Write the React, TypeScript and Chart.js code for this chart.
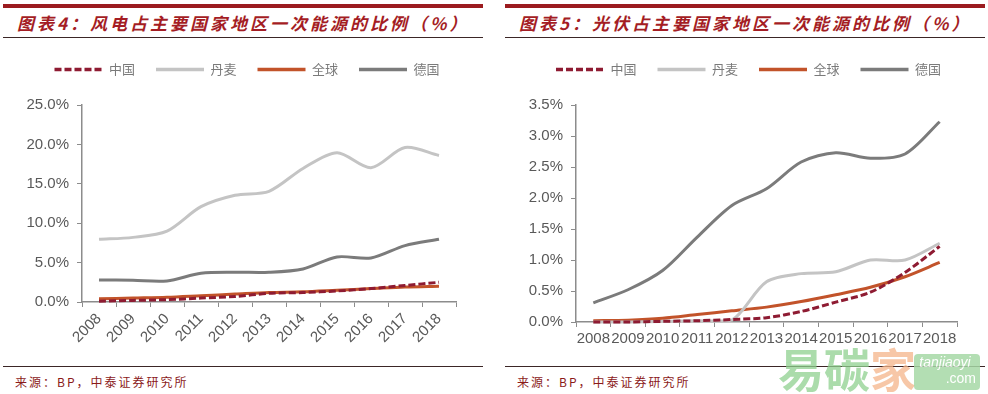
import React, { useEffect, useRef } from 'react';
import { Chart, registerables } from 'chart.js';
Chart.register(...registerables);

const years = ['2008', '2009', '2010', '2011', '2012', '2013', '2014', '2015', '2016', '2017', '2018'];
const seriesNames = ['中国', '丹麦', '全球', '德国'];

const windChina = [0.1, 0.2, 0.3, 0.5, 0.7, 1.1, 1.2, 1.4, 1.7, 2.1, 2.5];
const windDenmark = [7.95, 8.2, 9.0, 12.1, 13.55, 14.05, 16.95, 18.95, 17.05, 19.6, 18.6];
const windGlobal = [0.4, 0.5, 0.6, 0.8, 1.0, 1.2, 1.3, 1.5, 1.7, 1.9, 2.0];
const windGermany = [2.8, 2.75, 2.67, 3.64, 3.77, 3.77, 4.19, 5.72, 5.59, 7.16, 7.97];
const windTicks = [0, 5, 10, 15, 20, 25];

const solarChina = [0, 0, 0.01, 0.02, 0.04, 0.07, 0.17, 0.32, 0.48, 0.8, 1.22];
const solarDenmark = [0, 0, 0.01, 0.02, 0.03, 0.65, 0.78, 0.81, 1.0, 1.0, 1.27];
const solarGlobal = [0.02, 0.03, 0.06, 0.12, 0.18, 0.24, 0.33, 0.44, 0.56, 0.73, 0.96];
const solarGermany = [0.31, 0.52, 0.83, 1.37, 1.88, 2.15, 2.58, 2.73, 2.64, 2.71, 3.23];
const solarTicks = [0, 0.5, 1, 1.5, 2, 2.5, 3, 3.5];

const seriesColors = ['#8e1b32', '#c4c4c4', '#c2532a', '#7b7b7b'];
const seriesDash = [[7, 3], [], [], []];
const axisColor = '#8c8c8c';
const tickColor = '#595959';

type PanelProps = {
  left: number;
  data: number[][];
  ticks: number[];
  rotate: boolean;
  pad: { left: number; right: number };
  yWidth: number;
  xHeight: number;
  legendShift: number;
};

function legendTweak(extra: number, dx: number) {
  return {
    id: 'legendTweak',
    beforeLayout(chart: any) {
      const lg = chart.legend;
      if (lg && !lg.__tweak) {
        const origFit = lg.fit.bind(lg);
        lg.fit = function () {
          origFit();
          this.height += extra;
        };
        const origDraw = lg.draw.bind(lg);
        lg.draw = function () {
          const ctx = this.ctx;
          ctx.save();
          ctx.translate(dx, 0);
          origDraw();
          ctx.restore();
        };
        lg.__tweak = true;
      }
    },
  };
}

function LineChart(props: PanelProps) {
  const ref = useRef<HTMLCanvasElement | null>(null);
  useEffect(() => {
    if (!ref.current) return;
    const maxV = props.ticks[props.ticks.length - 1];
    const step = props.ticks[1] - props.ticks[0];
    const chart = new Chart(ref.current, {
      type: 'line',
      data: {
        labels: years,
        datasets: seriesNames.map((name, i) => ({
          label: name,
          data: props.data[i],
          borderColor: seriesColors[i],
          backgroundColor: seriesColors[i],
          borderWidth: 3,
          borderDash: seriesDash[i],
          pointRadius: 0,
          pointHoverRadius: 0,
          tension: 0.3,
          fill: false,
          clip: false as any,
        })),
      },
      options: {
        animation: false,
        responsive: false,
        devicePixelRatio: 1,
        layout: { padding: { left: props.pad.left, right: props.pad.right, top: 0, bottom: 0 } },
        plugins: {
          legend: {
            display: true,
            position: 'top',
            labels: {
              usePointStyle: true,
              pointStyle: 'line',
              pointStyleWidth: 48,
              padding: 21,
              color: '#7a7a7a',
              font: { family: '"Noto Sans CJK SC", sans-serif', size: 13 },
              generateLabels: (c: any) => {
                const items = (Chart.defaults.plugins.legend.labels as any).generateLabels(c);
                items.forEach((it: any, i: number) => {
                  it.lineWidth = 3.5;
                  it.lineDash = seriesDash[i];
                  it.lineCap = 'butt';
                  it.strokeStyle = seriesColors[i];
                  it.fillStyle = seriesColors[i];
                });
                return items;
              },
            },
          },
          tooltip: { enabled: false },
        },
        scales: {
          x: {
            offset: true,
            grid: {
              display: true,
              offset: true,
              drawOnChartArea: false,
              drawTicks: true,
              tickLength: 5,
              color: axisColor,
            },
            border: { display: true, color: axisColor, width: 1.5 },
            ticks: {
              autoSkip: false,
              maxRotation: props.rotate ? 45 : 0,
              minRotation: props.rotate ? 45 : 0,
              padding: 3,
              color: tickColor,
              font: { family: '"Liberation Sans", Arial, sans-serif', size: 15 },
            },
            afterFit: (s: any) => {
              s.height = props.xHeight;
            },
          },
          y: {
            min: 0,
            max: maxV,
            grid: {
              display: true,
              drawOnChartArea: false,
              drawTicks: true,
              tickLength: 5,
              color: axisColor,
            },
            border: { display: true, color: axisColor, width: 1.5 },
            ticks: {
              stepSize: step,
              padding: 8,
              color: tickColor,
              font: { family: '"Liberation Sans", Arial, sans-serif', size: 15 },
              callback: (v: any) => Number(v).toFixed(1) + '%',
            },
            afterFit: (s: any) => {
              s.width = props.yWidth;
            },
          },
        },
      },
      plugins: [legendTweak(19, props.legendShift)],
    } as any);
    return () => chart.destroy();
  }, []);
  return (
    <canvas
      ref={ref}
      width={494}
      height={318}
      style={{ position: 'absolute', left: props.left, top: 42, width: 494, height: 318 }}
    />
  );
}

const titleStyle: React.CSSProperties = {
  position: 'absolute',
  top: 12,
  fontFamily: '"Noto Sans CJK SC", sans-serif',
  fontSize: 17,
  fontWeight: 700,
  fontStyle: 'italic',
  letterSpacing: 3,
  color: '#a41d24',
  lineHeight: '22px',
  whiteSpace: 'nowrap',
};

const sourceStyle: React.CSSProperties = {
  position: 'absolute',
  top: 374,
  fontFamily: '"Noto Sans CJK SC", sans-serif',
  fontSize: 12,
  letterSpacing: 2,
  color: '#8b1a1a',
  lineHeight: '16px',
  whiteSpace: 'nowrap',
};

function Frame({ x, title }: { x: number; title: string }) {
  return (
    <>
      <div style={{ position: 'absolute', left: x, top: 4, width: 480, height: 4, background: '#9b1b1f' }} />
      <div style={{ ...titleStyle, left: x + 14 }}>{title}</div>
      <div style={{ position: 'absolute', left: x, top: 37, width: 480, height: 1, background: '#3b2626' }} />
      <div style={{ position: 'absolute', left: x, top: 366, width: 480, height: 1, background: '#3b2626' }} />
      <div style={{ ...sourceStyle, left: x + 12 }}>来源：BP，中泰证券研究所</div>
    </>
  );
}

export default function App() {
  return (
    <div
      style={{
        position: 'absolute',
        left: 0,
        top: 0,
        width: 988,
        height: 394,
        background: '#ffffff',
        overflow: 'hidden',
      }}
    >
      <Frame x={3} title="图表4：风电占主要国家地区一次能源的比例（%）" />
      <Frame x={505} title="图表5：光伏占主要国家地区一次能源的比例（%）" />
      <LineChart
        left={0}
        data={[windChina, windDenmark, windGlobal, windGermany]}
        ticks={windTicks}
        rotate={true}
        pad={{ left: 6, right: 38 }}
        yWidth={76}
        xHeight={58}
        legendShift={16}
      />
      <LineChart
        left={494}
        data={[solarChina, solarDenmark, solarGlobal, solarGermany]}
        ticks={solarTicks}
        rotate={false}
        pad={{ left: 20, right: 31 }}
        yWidth={62}
        xHeight={38}
        legendShift={13}
      />
      <div
        style={{
          position: 'absolute',
          left: 778,
          top: 342,
          fontFamily: '"Noto Sans CJK SC", sans-serif',
          fontSize: 46,
          fontWeight: 700,
          lineHeight: '50px',
          opacity: 0.75,
          whiteSpace: 'nowrap',
        }}
      >
        <span style={{ color: '#8fd08f' }}>易碳</span>
        <span style={{ color: '#f5b58a' }}>家</span>
      </div>
      <div
        style={{
          position: 'absolute',
          left: 914,
          top: 354,
          width: 66,
          height: 36,
          borderRadius: 4,
          background: '#a6d9a6',
          opacity: 0.85,
          color: '#ffffff',
          fontFamily: '"Liberation Sans", Arial, sans-serif',
          fontSize: 14,
          lineHeight: '16px',
          textAlign: 'right',
          paddingRight: 4,
          boxSizing: 'border-box',
        }}
      >
        <div style={{ fontStyle: 'italic', textAlign: 'center' }}>tanjiaoyi</div>
        <div>.com</div>
      </div>
    </div>
  );
}
